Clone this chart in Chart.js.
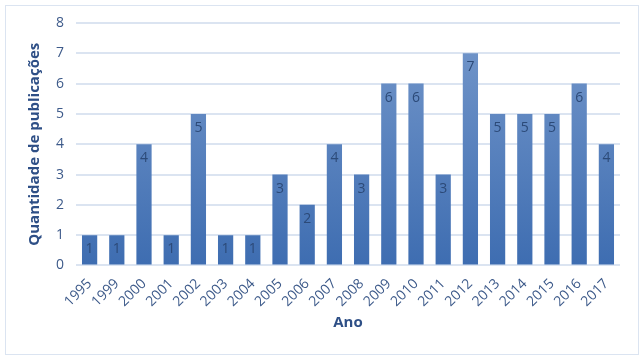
<!DOCTYPE html>
<html>
<head>
<meta charset="utf-8">
<script src="https://cdn.jsdelivr.net/npm/chart.js@4/dist/chart.umd.min.js"></script>
<style>
    body { margin: 0; background: #fff; }
    #wrap { position: relative; width: 643px; height: 358px; }
    #frame { position: absolute; left: 5px; top: 5px; width: 632px; height: 348px; border: 1px solid #dbe4f1; }
</style>
</head>
<body>
<div id="wrap">
    <div id="frame"></div>
    <canvas id="pubChart" width="643" height="358"></canvas>
</div>
<script>
const years = ['1995', '1999', '2000', '2001', '2002', '2003', '2004', '2005', '2006', '2007', '2008',
    '2009', '2010', '2011', '2012', '2013', '2014', '2015', '2016', '2017'];
const publications = [1, 1, 4, 1, 5, 1, 1, 3, 2, 4, 3, 6, 6, 3, 7, 5, 5, 5, 6, 4];
const yTicks = [0, 1, 2, 3, 4, 5, 6, 7, 8];

const fontFamily = "'Open Sans', sans-serif";

// bar labels drawn just inside the top of each bar
const barLabels = {
    id: 'barLabels',
    afterDatasetsDraw(chart) {
        const ctx = chart.ctx;
        const meta = chart.getDatasetMeta(0);
        ctx.save();
        ctx.font = '14px ' + fontFamily;
        ctx.fillStyle = '#2c4a78';
        ctx.textAlign = 'center';
        ctx.textBaseline = 'middle';
        meta.data.forEach((bar, i) => {
            ctx.fillText(String(publications[i]), bar.x, bar.y + 14);
        });
        ctx.restore();
    }
};

function barGradient(context) {
    const area = context.chart.chartArea;
    if (!area) return '#5582c0';
    const g = context.chart.ctx.createLinearGradient(0, area.top, 0, area.bottom);
    g.addColorStop(0, '#7598cb');
    g.addColorStop(1, '#3e6db1');
    return g;
}

const ctx = document.getElementById('pubChart').getContext('2d');
new Chart(ctx, {
    type: 'bar',
    data: {
        labels: years,
        datasets: [{
            data: publications,
            backgroundColor: barGradient,
            categoryPercentage: 1,
            barPercentage: 0.56,
        }],
    },
    options: {
        responsive: false,
        animation: false,
        layout: { padding: { left: 26, right: 23, top: 23, bottom: 22 } },
        plugins: { legend: { display: false }, tooltip: { enabled: false } },
        scales: {
            x: {
                grid: { display: false },
                border: { display: false },
                ticks: {
                    color: '#3d5a8a',
                    font: { family: fontFamily, size: 14 },
                    minRotation: 45,
                    maxRotation: 45,
                    autoSkip: false,
                    padding: 2,
                },
                title: {
                    display: true,
                    text: 'Ano',
                    color: '#2e4f86',
                    font: { family: fontFamily, size: 15, weight: 'bold' },
                    padding: { top: 2 },
                },
            },
            y: {
                min: 0,
                max: yTicks[yTicks.length - 1],
                afterBuildTicks(axis) {
                    axis.ticks = yTicks.map(v => ({ value: v }));
                },
                grid: { color: '#dbe4f1', lineWidth: 2, drawTicks: false },
                border: { display: false },
                ticks: {
                    color: '#3d5a8a',
                    font: { family: fontFamily, size: 14 },
                    padding: 12,
                },
                title: {
                    display: true,
                    text: 'Quantidade de publicações',
                    color: '#2e4f86',
                    font: { family: fontFamily, size: 15, weight: 'bold' },
                    padding: 0,
                },
            },
        },
    },
    plugins: [barLabels],
});
</script>
</body>
</html>
